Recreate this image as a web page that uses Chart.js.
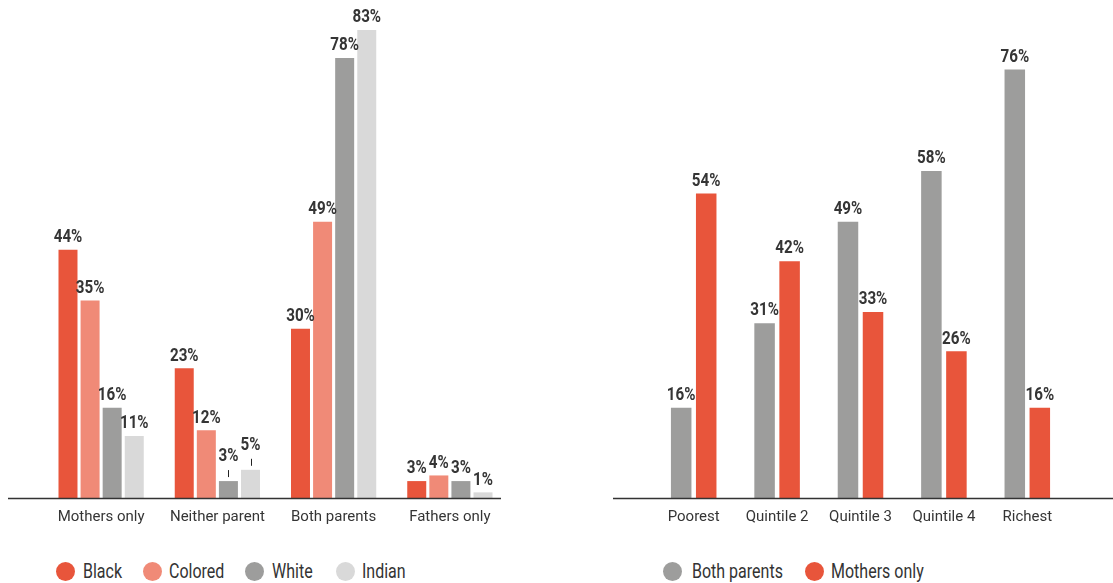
<!DOCTYPE html>
<html>
<head>
<meta charset="utf-8">
<script src="https://cdn.jsdelivr.net/npm/chart.js@4/dist/chart.umd.min.js"></script>
<style>
  body { margin: 0; background: #fff; width: 1113px; height: 583px; overflow: hidden; position: relative; font-family: Roboto, "Liberation Sans", sans-serif; }
  .box { position: absolute; top: 0; }
  .lg { position: absolute; top: 560px; height: 22px; font-size: 20px; color: #333; white-space: nowrap; }
  .lg i { position: absolute; width: 19px; height: 19px; border-radius: 50%; top: 2px; }
  .lg span { position: absolute; top: 0; line-height: 22px; transform: scaleX(0.8); transform-origin: left center; }
</style>
</head>
<body>
<div class="box" style="left:0;width:540px;height:545px"><canvas id="leftChart"></canvas></div>
<div class="box" style="left:580px;width:533px;height:545px"><canvas id="rightChart"></canvas></div>
<div id="legendLeft"></div>
<div id="legendRight"></div>
<script>
// left panel: living arrangement by race
var arrangements = ['Mothers only', 'Neither parent', 'Both parents', 'Fathers only'];
var black   = [44, 23, 30, 3];
var colored = [35, 12, 49, 4];
var white   = [16, 3, 78, 3];
var indian  = [11, 5, 83, 1];

// right panel: by income quintile
var quintiles = ['Poorest', 'Quintile 2', 'Quintile 3', 'Quintile 4', 'Richest'];
var bothParents = [16, 31, 49, 58, 76];
var mothersOnly = [54, 42, 33, 26, 16];

var RED = '#E8553B', SALMON = '#F08A77', GREY = '#9D9D9C', LIGHT = '#D9D9D9';
var TEXT = '#353535';

var valueLabels = {
    id: 'valueLabels',
    afterDatasetsDraw: function (chart, args, opts) {
        var ctx = chart.ctx;
        var leaders = opts.leaders || [];
        ctx.save();
        ctx.fillStyle = TEXT;
        ctx.strokeStyle = '#222';
        ctx.lineWidth = 1;
        ctx.font = 'bold 19px Roboto';
        ctx.textAlign = 'center';
        ctx.textBaseline = 'bottom';
        chart.data.datasets.forEach(function (ds, di) {
            chart.getDatasetMeta(di).data.forEach(function (bar, i) {
                var y = bar.y - 3;
                var isLeader = leaders.some(function (l) { return l[0] == di && l[1] == i; });
                if (isLeader) {
                    ctx.beginPath();
                    ctx.moveTo(Math.round(bar.x) + 0.5, bar.y - 4);
                    ctx.lineTo(Math.round(bar.x) + 0.5, bar.y - 11);
                    ctx.stroke();
                    y = bar.y - 15;
                }
                ctx.save();
                ctx.translate(bar.x, y);
                ctx.scale(0.8, 1);
                ctx.fillText(ds.data[i] + '%', 0, 0);
                ctx.restore();
            });
        });
        ctx.restore();
    }
};

var baseLine = {
    id: 'baseLine',
    afterDraw: function (chart, args, opts) {
        var ctx = chart.ctx;
        var y = Math.round(chart.scales.y.getPixelForValue(0)) + 0.5;
        ctx.save();
        ctx.strokeStyle = '#333';
        ctx.lineWidth = 1.3;
        ctx.beginPath();
        ctx.moveTo(opts.from, y);
        ctx.lineTo(opts.to, y);
        ctx.stroke();
        ctx.restore();
    }
};

function makeOptions(pad, cat, barPct, leaders, lineFrom, lineTo) {
    return {
        responsive: true,
        maintainAspectRatio: false,
        animation: false,
        layout: { padding: pad },
        plugins: {
            legend: { display: false },
            tooltip: { enabled: false },
            valueLabels: { leaders: leaders },
            baseLine: { from: lineFrom, to: lineTo }
        },
        datasets: { bar: { categoryPercentage: cat, barPercentage: barPct } },
        scales: {
            x: {
                grid: { display: false, drawTicks: false },
                border: { display: false },
                ticks: { color: TEXT, font: { family: 'Roboto', size: 15 }, padding: 10, maxRotation: 0, autoSkip: false }
            },
            y: { display: false, min: 0, max: 86 }
        }
    };
}

new Chart(document.getElementById('leftChart').getContext('2d'), {
    type: 'bar',
    data: {
        labels: arrangements,
        datasets: [
            { label: 'Black', data: black, backgroundColor: RED },
            { label: 'Colored', data: colored, backgroundColor: SALMON },
            { label: 'White', data: white, backgroundColor: GREY },
            { label: 'Indian', data: indian, backgroundColor: LIGHT }
        ]
    },
    options: makeOptions({ left: 43, right: 32, top: 13, bottom: 9 }, 0.76, 0.86, [[2, 1], [3, 1]], 8, 501),
    plugins: [valueLabels, baseLine]
});

new Chart(document.getElementById('rightChart').getContext('2d'), {
    type: 'bar',
    data: {
        labels: quintiles,
        datasets: [
            { label: 'Both parents', data: bothParents, backgroundColor: GREY },
            { label: 'Mothers only', data: mothersOnly, backgroundColor: RED }
        ]
    },
    options: makeOptions({ left: 72, right: 44, top: 13, bottom: 9 }, 0.6, 0.82, [], 33, 533),
    plugins: [valueLabels, baseLine]
});

// legends
function buildLegend(el, items, circles, texts) {
    var html = '';
    items.forEach(function (it, i) {
        html += '<div class="lg" style="left:0"><i style="left:' + (circles[i] - 9.5) + 'px;background:' + it[1] +
            '"></i><span style="left:' + texts[i] + 'px">' + it[0] + '</span></div>';
    });
    el.innerHTML = html;
}
buildLegend(document.getElementById('legendLeft'),
    [['Black', RED], ['Colored', SALMON], ['White', GREY], ['Indian', LIGHT]],
    [65, 152, 254, 345], [83, 169, 272, 362]);
buildLegend(document.getElementById('legendRight'),
    [['Both parents', GREY], ['Mothers only', RED]],
    [672, 814], [692, 831]);
</script>
</body>
</html>
